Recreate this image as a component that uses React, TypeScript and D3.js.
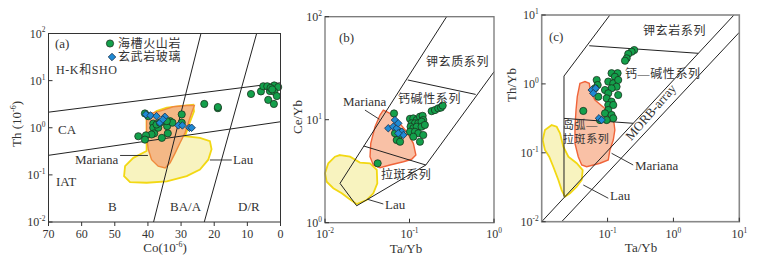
import React, { useEffect, useRef } from 'react';
import * as d3 from 'd3';

// ---- panel (a): Co vs Th ----
const seamountA = [
  [40.9, 2.01], [39.9, 1.76], [38.4, 1.23], [38.4, 1.0], [38.1, 0.76], [38.9, 0.72], [40.6, 0.69],
  [42.9, 0.66], [40.9, 0.56], [35.8, 0.61], [34.0, 0.76], [34.2, 1.08], [33.3, 1.38], [32.6, 1.28],
  [29.8, 1.92], [29.8, 1.28], [36.9, 1.0], [35.4, 1.38], [37.4, 1.17], [36.4, 1.28], [34.3, 1.38],
  [23.0, 3.2], [18.9, 2.6], [18.9, 2.75],
  [8.9, 5.2], [5.9, 5.9], [5.2, 7.6], [4.0, 7.6], [1.9, 7.9], [0.7, 7.3], [3.2, 6.0], [1.9, 5.8],
  [1.1, 4.7], [3.7, 3.9], [2.0, 3.2], [3.0, 7.0], [2.5, 6.5]
];
const glassA = [
  [40.6, 1.92], [39.2, 1.82], [37.4, 1.76], [34.9, 1.71], [36.4, 1.28], [35.5, 1.5],
  [30.8, 1.12], [29.6, 1.12], [27.5, 1.0], [26.8, 1.0]
];
const marianaA = [
  [40.4, 1.91], [36.4, 2.25], [32.4, 2.79], [28.3, 2.97], [26.0, 2.97], [26.8, 2.08], [27.8, 1.28],
  [28.8, 0.78], [30.3, 0.48], [31.8, 0.29], [33.3, 0.18], [34.8, 0.14], [36.9, 0.153], [38.9, 0.21],
  [39.9, 0.35], [40.4, 0.66], [40.4, 1.28]
];
const lauA = [
  [34.3, 2.66], [26.3, 3.08], [26.1, 2.22], [27.6, 1.17], [28.8, 0.66], [24.3, 0.61], [21.3, 0.52],
  [20.8, 0.35], [21.8, 0.21], [24.3, 0.13], [28.3, 0.094], [34.3, 0.073], [40.4, 0.068], [45.4, 0.07],
  [47.2, 0.094], [46.9, 0.153], [44.4, 0.23], [40.4, 0.32], [40.4, 0.66], [40.4, 1.5], [37.4, 2.25]
];
const linesA = [
  [[70, 2.14], [0, 9.0]],
  [[70, 0.26], [0, 1.34]],
  [[24, 100], [38.3, 0.01]],
  [[7.2, 100], [23, 0.01]]
];
const ticksXA = [70, 60, 50, 40, 30, 20, 10, 0];
const ticksYA = [0.01, 0.1, 1, 10, 100];

// ---- panel (b): Ta/Yb vs Ce/Yb ----
const seamountB = [
  [0.0656, 11.5], [0.1014, 10.2], [0.111, 10.3], [0.1217, 9.93], [0.133, 10.7], [0.143, 10.9],
  [0.1455, 9.93], [0.106, 9.23], [0.116, 9.23], [0.127, 9.23], [0.139, 9.57], [0.103, 8.55],
  [0.111, 8.26], [0.1217, 8.55], [0.139, 8.55], [0.152, 8.89], [0.1014, 7.64], [0.116, 7.64],
  [0.127, 7.38], [0.1455, 7.1], [0.111, 6.84], [0.133, 6.11], [0.0773, 7.64], [0.0736, 6.84],
  [0.0706, 6.35], [0.0773, 6.11], [0.0673, 7.38], [0.183, 12.1], [0.2, 12.4], [0.219, 12.9],
  [0.236, 13.1], [0.247, 13.7], [0.042, 3.77]
];
const glassB = [
  [0.0561, 8.26], [0.0643, 8.55], [0.0673, 9.93], [0.0706, 8.26], [0.0736, 9.23], [0.0809, 7.64],
  [0.0846, 7.1], [0.0736, 7.38]
];
const marianaB = [
  [0.049, 12.4], [0.0587, 11.5], [0.0736, 9.57], [0.0926, 7.64], [0.111, 5.9], [0.119, 4.54],
  [0.106, 4.13], [0.0846, 3.91], [0.0587, 3.63], [0.0448, 3.42], [0.0373, 3.63], [0.0341, 4.37],
  [0.0348, 5.9], [0.0391, 8.55], [0.0448, 11.1]
];
const lauB = [
  [0.01506, 4.54], [0.0198, 4.37], [0.0259, 3.83], [0.0341, 3.77], [0.041, 3.25], [0.0416, 2.41],
  [0.0373, 1.93], [0.0311, 1.66], [0.0237, 1.52], [0.0189, 1.73], [0.0158, 1.93], [0.01254, 2.16],
  [0.01047, 2.5], [0.01, 3.02], [0.01094, 3.77], [0.01312, 4.37]
];
const linesB = [
  [[0.275, 100], [0.01505, 2.41], [0.0237, 1.46], [0.156, 3.63], [1.0, 29.2]],
  [[0.0953, 24.3], [0.607, 17.6]],
  [[0.0288, 5.55], [0.156, 3.63]]
];
const ticksXB = [0.01, 0.1, 1];
const ticksYB = [1, 10, 100];

// ---- panel (c): Ta/Yb vs Th/Yb ----
const seamountC = [
  [0.254, 3.1], [0.232, 2.93], [0.206, 2.72], [0.195, 2.35], [0.184, 2.17], [0.115, 1.43],
  [0.142, 1.43], [0.129, 1.27], [0.1025, 1.08], [0.122, 1.02], [0.145, 1.14], [0.137, 0.91],
  [0.115, 0.863], [0.0914, 0.815], [0.1025, 0.731], [0.145, 0.69], [0.0969, 0.618], [0.115, 0.552],
  [0.1025, 0.494], [0.122, 0.494], [0.1025, 0.418], [0.0914, 0.374], [0.115, 0.354], [0.122, 0.317],
  [0.0969, 0.299], [0.0684, 1.14], [0.0708, 0.964], [0.0644, 0.863], [0.0723, 0.652],
  [0.0428, 0.405], [0.0767, 0.299]
];
const glassC = [
  [0.0574, 0.815], [0.0659, 0.863], [0.0607, 0.731], [0.074, 0.317], [0.0813, 0.299]
];
const marianaC = [
  [0.0381, 1.02], [0.0454, 1.08], [0.0527, 1.02], [0.0554, 0.771], [0.0644, 0.583], [0.0969, 0.418],
  [0.122, 0.334], [0.129, 0.214], [0.122, 0.153], [0.1086, 0.11], [0.1025, 0.0787], [0.0767, 0.0705],
  [0.0482, 0.0628], [0.0405, 0.0665], [0.0359, 0.0877], [0.032, 0.137], [0.032, 0.239],
  [0.0332, 0.418], [0.0347, 0.652]
];
const lauC = [
  [0.0142, 0.253], [0.0169, 0.239], [0.019, 0.192], [0.0213, 0.123], [0.0254, 0.0877], [0.034, 0.0705],
  [0.0419, 0.0562], [0.0405, 0.0403], [0.034, 0.0322], [0.0269, 0.0258], [0.0226, 0.0231],
  [0.0201, 0.0288], [0.0179, 0.0403], [0.015, 0.0628], [0.013, 0.0877], [0.0112, 0.11],
  [0.01035, 0.153], [0.0112, 0.214]
];
const linesC = [
  [[0.01, 0.01], [8.3, 10]],
  [[0.0201, 0.01], [10, 5.6]],
  [[0.0218, 0.0231], [0.0218, 1.3], [0.1086, 10]],
  [[0.0527, 3.58], [2.38, 2.78]],
  [[0.0218, 0.316], [0.245, 0.268]]
];
const ticksXC = [0.1, 1, 10];
const ticksYC = [0.01, 0.1, 1, 10];

const SERIF = '"Liberation Serif", "Times New Roman", serif';
const CJK = '"Noto Sans CJK SC", sans-serif';
const GREEN = '#13a04b';
const BLUE = '#1f8ad4';

function powLabel(sel, v, size) {
  const e = Math.round(Math.log10(v));
  sel.append('tspan').text('10');
  sel.append('tspan').attr('dy', -size * 0.42).style('font-size', size * 0.62 + 'px').text(String(e));
}

function drawPanel(svg, p) {
  const g = svg.append('g');
  const line = d3.line().x(d => p.x(d[0])).y(d => p.y(d[1]));
  const [x0, x1] = p.x.range();
  const [y0, y1] = p.y.range();

  g.append('path').attr('d', line(p.lau) + 'Z')
    .attr('fill', '#f8f3bf').attr('stroke', '#f2d813').attr('stroke-width', 1.8);
  g.append('path').attr('d', line(p.mariana) + 'Z')
    .attr('fill', p.marFill).attr('stroke', p.marStroke).attr('stroke-width', 1.4);

  p.lines.forEach(l => {
    g.append('path').attr('d', line(l)).attr('fill', 'none').attr('stroke', '#222').attr('stroke-width', 1);
  });

  p.leaders.forEach(l => {
    g.append('path').attr('d', line(l)).attr('fill', 'none').attr('stroke', '#222').attr('stroke-width', 0.9);
  });

  g.selectAll('circle.s').data(p.seamount).enter().append('circle')
    .attr('cx', d => p.x(d[0])).attr('cy', d => p.y(d[1])).attr('r', 3.6)
    .attr('fill', GREEN).attr('stroke', '#1a3320').attr('stroke-width', 0.8);

  const sq = d3.symbol(d3.symbolSquare, 28);
  g.selectAll('path.gl').data(p.glass).enter().append('path')
    .attr('d', sq())
    .attr('transform', d => `translate(${p.x(d[0])},${p.y(d[1])}) rotate(45)`)
    .attr('fill', BLUE).attr('stroke', '#1d3550').attr('stroke-width', 0.8);

  // frame
  g.append('rect').attr('x', x0).attr('y', y1).attr('width', x1 - x0).attr('height', y0 - y1)
    .attr('fill', 'none').attr('stroke', p.frame).attr('stroke-width', p.frameW);

  // y ticks + labels
  p.yTicks.forEach(v => {
    const yy = p.y(v);
    g.append('line').attr('x1', x0).attr('x2', x0 + 4).attr('y1', yy).attr('y2', yy).attr('stroke', '#333');
    const t = g.append('text').attr('x', x0 - 3).attr('y', yy + 4).attr('text-anchor', 'end')
      .style('font-family', SERIF).style('font-size', '12px').attr('fill', '#333');
    powLabel(t, v, 12);
  });

  // x ticks + labels
  p.xTicks.forEach(v => {
    const xx = p.x(v);
    g.append('line').attr('x1', xx).attr('x2', xx).attr('y1', y0).attr('y2', y0 + p.xTickLen).attr('stroke', '#333');
    const t = g.append('text').attr('x', xx).attr('y', 238).attr('text-anchor', 'middle')
      .style('font-family', SERIF).style('font-size', '12px').attr('fill', '#333');
    if (p.linearX) t.text(String(v));
    else powLabel(t, v, 12);
  });

  // axis titles
  const xt = g.append('text').attr('x', p.xTitle[0]).attr('y', p.xTitle[1]).attr('text-anchor', 'middle')
    .style('font-family', SERIF).style('font-size', '13px').attr('fill', '#333');
  xt.append('tspan').text(p.xTitleText);
  if (p.xTitleSup) {
    xt.append('tspan').attr('dy', -5).style('font-size', '8px').text(p.xTitleSup);
    xt.append('tspan').attr('dy', 5).text(')');
  }
  const yt = g.append('text')
    .attr('transform', `translate(${p.yTitle[0]},${p.yTitle[1]}) rotate(-90)`)
    .attr('text-anchor', 'middle')
    .style('font-family', SERIF).style('font-size', '13px').attr('fill', '#333');
  yt.append('tspan').text(p.yTitleText);
  if (p.yTitleSup) {
    yt.append('tspan').attr('dy', -5).style('font-size', '8px').text(p.yTitleSup);
    yt.append('tspan').attr('dy', 5).text(')');
  }

  p.labels.forEach(l => {
    const cjk = /[\u4e00-\u9fff]/.test(l[2]);
    g.append('text').attr('x', l[0]).attr('y', l[1])
      .attr('transform', l[3] ? `rotate(${l[3]},${l[0]},${l[1]})` : null)
      .attr('text-anchor', l[4] || 'start')
      .style('font-family', cjk ? SERIF + ', ' + CJK : SERIF)
      .style('font-size', l[5] || (cjk ? '12px' : '13px'))
      .style('letter-spacing', cjk ? '0.6px' : null)
      .attr('fill', '#333')
      .text(l[2]);
  });
  return g;
}

export default function App() {
  const ref = useRef(null);

  useEffect(() => {
    const svg = d3.select(ref.current);
    svg.selectAll('*').remove();

    const a = drawPanel(svg, {
      x: d3.scaleLinear().domain([70, 0]).range([48.5, 280.5]),
      y: d3.scaleLog().domain([0.01, 100]).range([222, 33.5]),
      seamount: seamountA, glass: glassA, mariana: marianaA, lau: lauA, lines: linesA,
      leaders: [[[48.4, 0.258], [40, 0.258]], [[21.3, 0.207], [14.7, 0.207]]],
      marFill: '#f4b886', marStroke: '#f08a3c', frame: '#333', frameW: 1,
      xTicks: ticksXA, yTicks: ticksYA, linearX: true, xTickLen: 4,
      xTitle: [165, 252], xTitleText: 'Co(10', xTitleSup: '-6',
      yTitle: [21, 124], yTitleText: 'Th (10', yTitleSup: '-6',
      labels: [
        [55, 48, '(a)'], [56, 74, 'H-K和SHO'], [58, 134, 'CA'], [56, 186, 'IAT'],
        [108, 211, 'B'], [170, 211, 'BA/A'], [238, 211, 'D/R'],
        [75, 164, 'Mariana'], [233, 164, 'Lau'],
        [118, 48, '海槽火山岩'], [118, 61, '玄武岩玻璃']
      ]
    });
    a.append('circle').attr('cx', 110).attr('cy', 43.5).attr('r', 3.6)
      .attr('fill', GREEN).attr('stroke', '#1a3320').attr('stroke-width', 0.8);
    a.append('path').attr('d', d3.symbol(d3.symbolSquare, 28)())
      .attr('transform', 'translate(112,57) rotate(45)')
      .attr('fill', BLUE).attr('stroke', '#1d3550').attr('stroke-width', 0.8);

    drawPanel(svg, {
      x: d3.scaleLog().domain([0.01, 1]).range([325, 494]),
      y: d3.scaleLog().domain([1, 100]).range([222.7, 16.7]),
      seamount: seamountB, glass: glassB, mariana: marianaB, lau: lauB, lines: linesB,
      leaders: [[[0.0297, 12.4], [0.044, 10.1]], [[0.0316, 1.69], [0.049, 1.52]]],
      marFill: '#f9c1a6', marStroke: '#f0643a', frame: '#777', frameW: 1.3,
      xTicks: ticksXB, yTicks: ticksYB, linearX: false, xTickLen: -4,
      xTitle: [406, 253], xTitleText: 'Ta/Yb',
      yTitle: [302, 117], yTitleText: 'Ce/Yb',
      labels: [
        [339, 42, '(b)'], [426, 66, '钾玄质系列'], [398, 103, '钙碱性系列'], [381, 179, '拉斑系列'],
        [343, 106, 'Mariana'], [385, 209, 'Lau']
      ]
    });

    drawPanel(svg, {
      x: d3.scaleLog().domain([0.01, 10]).range([541.7, 739.3]),
      y: d3.scaleLog().domain([0.01, 10]).range([221.7, 15]),
      seamount: seamountC, glass: glassC, mariana: marianaC, lau: lauC, lines: linesC,
      leaders: [[[0.115, 0.0984], [0.245, 0.0665]], [[0.0428, 0.0341], [0.1026, 0.0219]]],
      marFill: '#f9c1a6', marStroke: '#f0643a', frame: '#888', frameW: 1.6,
      xTicks: ticksXC, yTicks: ticksYC, linearX: false, xTickLen: -4,
      xTitle: [641, 252], xTitleText: 'Ta/Yb',
      yTitle: [516, 85], yTitleText: 'Th/Yb',
      labels: [
        [549, 41, '(c)'], [643, 35, '钾玄岩系列'], [625, 78, '钙—碱性系列'],
        [563, 129, '岛弧—', 0, 'start', '11px'], [563, 143, '拉斑系列', 0, 'start', '11px'],
        [654, 115, 'MORB-array', -49, 'middle'],
        [635, 170, 'Mariana'], [610, 200, 'Lau']
      ]
    });
  }, []);

  return (
    <svg ref={ref} width={760} height={261}
      style={{ position: 'absolute', left: 0, top: 0, background: '#fff' }} />
  );
}
